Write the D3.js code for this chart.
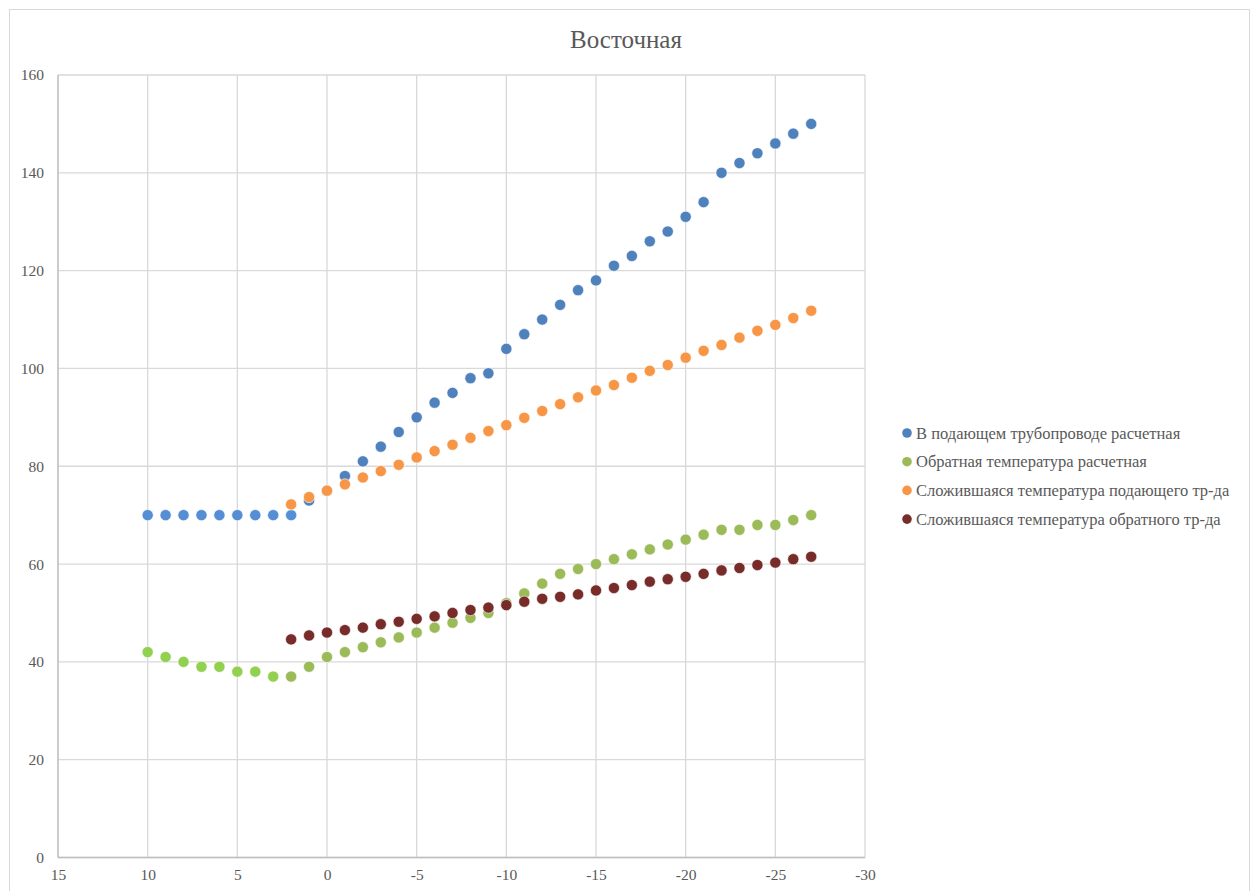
<!DOCTYPE html>
<html>
<head>
<meta charset="utf-8">
<script src="https://cdnjs.cloudflare.com/ajax/libs/d3/7.8.5/d3.min.js"></script>
<style>
  body { margin: 0; background: #fff; }
  svg text { font-family: "Liberation Serif", "Times New Roman", serif; fill: #595959; }
</style>
</head>
<body>
<div id="chart"></div>
<script>
// ---- data ----
var title = "Восточная";

// outdoor temperature for the design curves
var xDesign = [10, 9, 8, 7, 6, 5, 4, 3, 2, 1, 0, -1, -2, -3, -4, -5, -6, -7, -8, -9,
  -10, -11, -12, -13, -14, -15, -16, -17, -18, -19, -20, -21, -22, -23, -24, -25, -26, -27];
var supplyDesign = [70, 70, 70, 70, 70, 70, 70, 70, 70, 73, 75, 78, 81, 84, 87, 90, 93, 95, 98, 99,
  104, 107, 110, 113, 116, 118, 121, 123, 126, 128, 131, 134, 140, 142, 144, 146, 148, 150];
var returnDesign = [42, 41, 40, 39, 39, 38, 38, 37, 37, 39, 41, 42, 43, 44, 45, 46, 47, 48, 49, 50,
  52, 54, 56, 58, 59, 60, 61, 62, 63, 64, 65, 66, 67, 67, 68, 68, 69, 70];

// outdoor temperature for the actual curves
var xActual = [2, 1, 0, -1, -2, -3, -4, -5, -6, -7, -8, -9, -10, -11, -12, -13, -14, -15,
  -16, -17, -18, -19, -20, -21, -22, -23, -24, -25, -26, -27];
var supplyActual = [72.2, 73.7, 75.0, 76.3, 77.7, 79.0, 80.3, 81.8, 83.1, 84.4, 85.8, 87.2, 88.4, 89.9,
  91.3, 92.7, 94.1, 95.5, 96.6, 98.1, 99.5, 100.7, 102.2, 103.6, 104.8, 106.3, 107.7, 108.9, 110.3, 111.8];
var returnActual = [44.6, 45.4, 46.0, 46.5, 47.0, 47.7, 48.2, 48.8, 49.3, 50.0, 50.6, 51.1, 51.6, 52.3,
  52.9, 53.3, 53.8, 54.6, 55.1, 55.7, 56.4, 56.9, 57.4, 58.0, 58.7, 59.2, 59.8, 60.3, 61.0, 61.5];

var seriesNames = [
  "В подающем трубопроводе расчетная",
  "Обратная температура расчетная",
  "Сложившаяся температура подающего тр-да",
  "Сложившаяся температура обратного тр-да"
];

var xTicks = [15, 10, 5, 0, -5, -10, -15, -20, -25, -30];
var yTicks = [0, 20, 40, 60, 80, 100, 120, 140, 160];

// ---- svg ----
var svgWidth = 1253, svgHeight = 891;
var plot = { left: 58, right: 865, top: 75, bottom: 857.5 };

var svg = d3.select("#chart").append("svg")
  .attr("width", svgWidth)
  .attr("height", svgHeight);

// chart frame
svg.append("rect")
  .attr("x", 9.5).attr("y", 9.5)
  .attr("width", 1240).attr("height", 900)
  .attr("fill", "#fff")
  .attr("stroke", "#d9d9d9");

var xScale = d3.scaleLinear().domain([15, -30]).range([plot.left, plot.right]);
var yScale = d3.scaleLinear().domain([0, 160]).range([plot.bottom, plot.top]);

// gridlines
svg.append("g").selectAll("line")
  .data(xTicks)
  .enter().append("line")
  .attr("x1", d => xScale(d)).attr("x2", d => xScale(d))
  .attr("y1", plot.top).attr("y2", plot.bottom)
  .attr("stroke", "#d9d9d9").attr("stroke-width", 1.3);

svg.append("g").selectAll("line")
  .data(yTicks)
  .enter().append("line")
  .attr("x1", plot.left).attr("x2", plot.right)
  .attr("y1", d => yScale(d)).attr("y2", d => yScale(d))
  .attr("stroke", "#d9d9d9").attr("stroke-width", 1.3);

// axis lines
svg.append("line")
  .attr("x1", plot.left).attr("x2", plot.right)
  .attr("y1", plot.bottom).attr("y2", plot.bottom)
  .attr("stroke", "#bfbfbf").attr("stroke-width", 1.3);
svg.append("line")
  .attr("x1", plot.left).attr("x2", plot.left)
  .attr("y1", plot.top).attr("y2", plot.bottom)
  .attr("stroke", "#bfbfbf").attr("stroke-width", 1.3);

// axes (labels only) - plain hyphen for negatives like Excel
var fmt = d => String(d);
var xAxis = d3.axisBottom(xScale).tickValues(xTicks).tickFormat(fmt).tickSize(0).tickPadding(11);
var yAxis = d3.axisLeft(yScale).tickValues(yTicks).tickFormat(fmt).tickSize(0).tickPadding(14);

var gx = svg.append("g")
  .attr("transform", `translate(0, ${plot.bottom})`)
  .call(xAxis);
gx.select(".domain").remove();

var gy = svg.append("g")
  .attr("transform", `translate(${plot.left}, 0)`)
  .call(yAxis);
gy.select(".domain").remove();

svg.selectAll(".tick text")
  .style("font-size", "15.5px")
  .style("font-family", "'Liberation Serif', serif")
  .style("fill", "#595959");

// title
svg.append("text")
  .attr("x", 626).attr("y", 48)
  .attr("text-anchor", "middle")
  .style("font-family", "'Liberation Serif', serif")
  .style("font-size", "25px")
  .text(title);

// ---- series ----
var colors = ["#4f81bd", "#9bbb59", "#f79646", "#772c2a"];
// the flat left part of the design curves is drawn in a lighter shade
var lightColors = ["#558ed5", "#92d050"];

var series = [
  { x: xDesign, y: supplyDesign, color: colors[0], light: lightColors[0], lightFrom: 2 },
  { x: xDesign, y: returnDesign, color: colors[1], light: lightColors[1], lightFrom: 3 },
  { x: xActual, y: supplyActual, color: colors[2] },
  { x: xActual, y: returnActual, color: colors[3] }
];

series.forEach(function(s) {
  var pts = s.x.map((x, i) => ({ x: x, y: s.y[i] }));
  svg.append("g").selectAll("circle")
    .data(pts)
    .enter().append("circle")
    .attr("cx", d => xScale(d.x))
    .attr("cy", d => yScale(d.y))
    .attr("r", 5.6)
    .attr("fill", d => (s.light && d.x >= s.lightFrom) ? s.light : s.color)
    .attr("stroke", "#fff")
    .attr("stroke-width", 0.6);
});

// ---- legend ----
var legend = svg.append("g").attr("transform", "translate(907, 433)");
var legendRows = legend.selectAll("g")
  .data(seriesNames)
  .enter().append("g")
  .attr("transform", (d, i) => `translate(0, ${i * 28.7})`);

legendRows.append("circle")
  .attr("r", 4.8)
  .attr("fill", (d, i) => colors[i]);

legendRows.append("text")
  .attr("x", 9).attr("y", 5.5)
  .style("font-family", "'Liberation Serif', serif")
  .style("font-size", "16.5px")
  .text(d => d);
</script>
</body>
</html>
